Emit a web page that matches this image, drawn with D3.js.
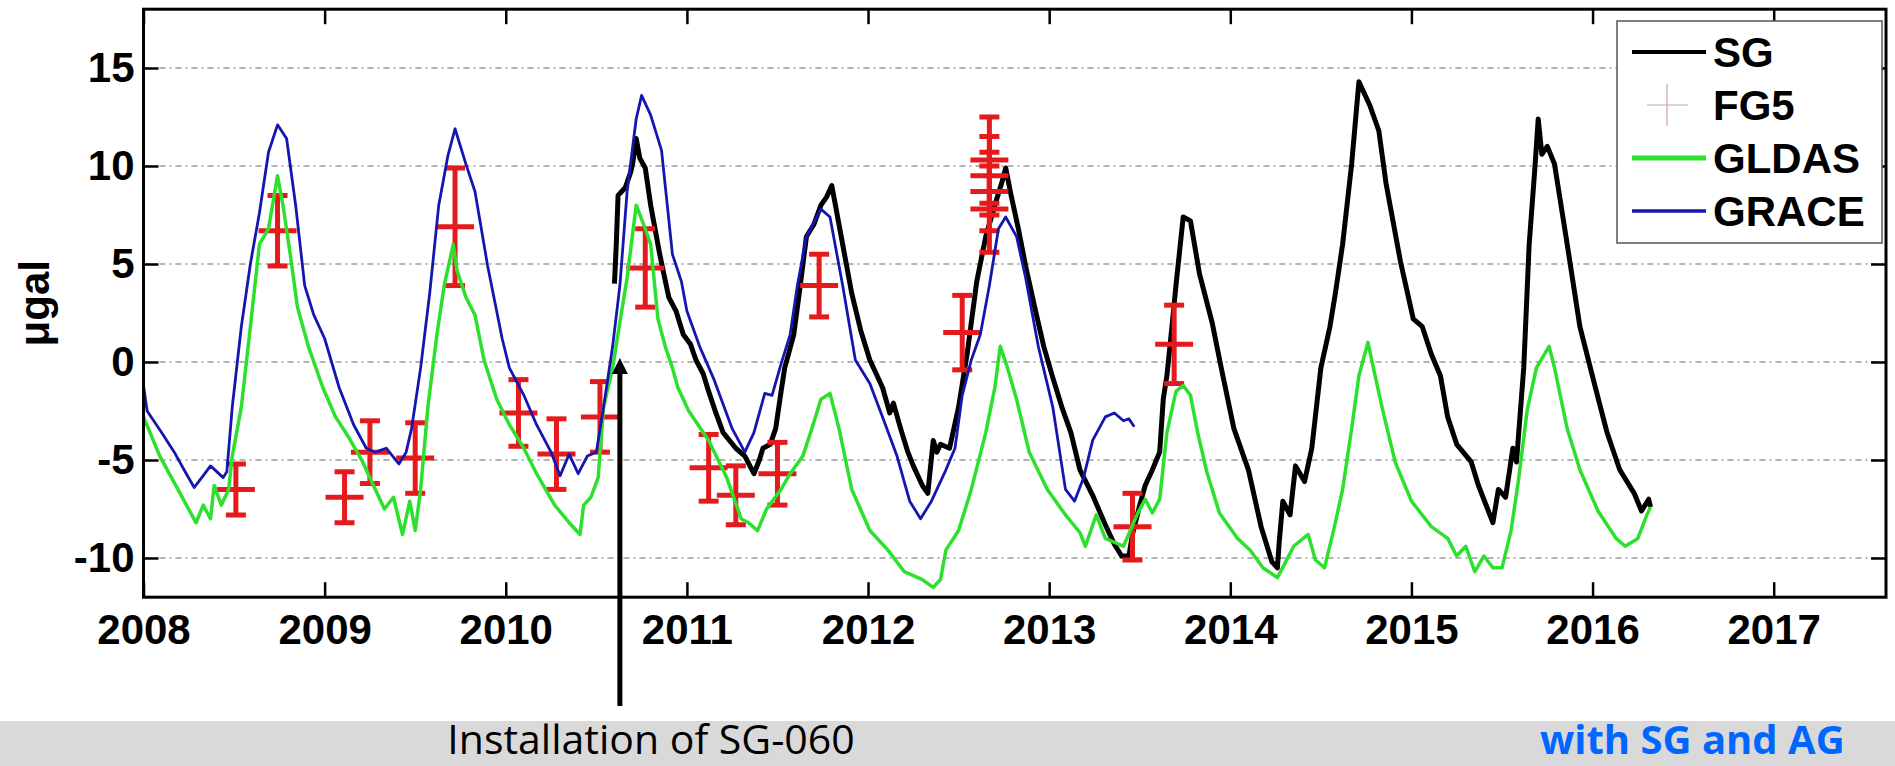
<!DOCTYPE html>
<html>
<head>
<meta charset="utf-8">
<script src="https://cdn.jsdelivr.net/npm/d3@7"></script>
<style>
    body { margin: 0; background: #fff; }
    .tick text { font-family: "Liberation Sans", Arial, sans-serif; font-weight: bold; font-size: 42px; fill: #000; }
</style>
</head>
<body>
<div id="chart"></div>
<script>
// ---- data (decimal years, microgal) ----
var sgYears = [2010.60, 2010.61, 2010.62, 2010.64, 2010.66, 2010.69, 2010.70, 2010.72, 2010.74, 2010.77, 2010.80, 2010.85, 2010.87, 2010.90, 2010.94, 2010.98, 2011.02, 2011.05, 2011.09, 2011.12, 2011.16, 2011.20, 2011.27, 2011.32, 2011.37, 2011.40, 2011.42, 2011.46, 2011.49, 2011.52, 2011.54, 2011.59, 2011.62, 2011.66, 2011.70, 2011.74, 2011.77, 2011.80, 2011.84, 2011.91, 2011.96, 2012.01, 2012.08, 2012.12, 2012.14, 2012.18, 2012.22, 2012.25, 2012.30, 2012.33, 2012.36, 2012.38, 2012.40, 2012.45, 2012.50, 2012.55, 2012.60, 2012.65, 2012.70, 2012.74, 2012.76, 2012.79, 2012.83, 2012.87, 2012.92, 2012.97, 2013.02, 2013.07, 2013.12, 2013.17, 2013.24, 2013.31, 2013.36, 2013.40, 2013.44, 2013.46, 2013.50, 2013.53, 2013.57, 2013.61, 2013.63, 2013.65, 2013.68, 2013.70, 2013.74, 2013.78, 2013.83, 2013.90, 2013.95, 2014.02, 2014.10, 2014.17, 2014.23, 2014.26, 2014.27, 2014.29, 2014.33, 2014.36, 2014.41, 2014.45, 2014.50, 2014.55, 2014.58, 2014.62, 2014.67, 2014.71, 2014.74, 2014.77, 2014.82, 2014.86, 2014.94, 2015.01, 2015.06, 2015.11, 2015.16, 2015.20, 2015.25, 2015.33, 2015.37, 2015.45, 2015.48, 2015.52, 2015.56, 2015.58, 2015.62, 2015.65, 2015.68, 2015.70, 2015.72, 2015.75, 2015.79, 2015.86, 2015.93, 2016.01, 2016.08, 2016.15, 2016.23, 2016.27, 2016.31, 2016.32];
var sgValues = [4.0, 6.0, 8.5, 8.7, 8.9, 9.7, 10.1, 11.4, 10.4, 9.9, 8.0, 5.5, 4.6, 3.3, 2.6, 1.4, 0.9, 0.1, -0.6, -1.5, -2.6, -3.6, -4.4, -4.8, -5.7, -5.0, -4.4, -4.2, -3.4, -1.5, -0.3, 1.4, 3.5, 6.4, 7.0, 8.0, 8.4, 9.0, 7.0, 3.5, 1.6, 0.1, -1.3, -2.6, -2.1, -3.4, -4.6, -5.3, -6.3, -6.7, -4.0, -4.6, -4.2, -4.4, -2.3, 0.6, 4.1, 6.4, 8.0, 9.2, 9.9, 8.5, 6.8, 4.9, 2.8, 0.8, -0.8, -2.3, -3.6, -5.5, -6.8, -8.3, -9.3, -9.9, -9.9, -8.8, -7.3, -6.3, -5.5, -4.6, -1.9, -0.7, 2.0, 3.9, 7.4, 7.2, 4.5, 2.0, -0.3, -3.4, -5.5, -8.4, -10.2, -10.5, -9.2, -7.1, -7.8, -5.3, -6.1, -4.4, -0.3, 1.8, 3.5, 6.0, 10.1, 14.3, 13.7, 13.1, 11.8, 9.1, 5.1, 2.2, 1.8, 0.4, -0.7, -2.8, -4.2, -5.1, -6.3, -8.2, -6.5, -6.9, -4.4, -5.1, -0.3, 6.0, 9.7, 12.4, 10.6, 11.0, 10.1, 6.0, 1.8, -1.1, -3.6, -5.5, -6.7, -7.6, -7.0, -7.4];

var fg5Years = [2008.51, 2008.74, 2009.11, 2009.25, 2009.50, 2009.72, 2010.07, 2010.28, 2010.52, 2010.77, 2011.12, 2011.27, 2011.50, 2011.73, 2012.52, 2012.67, 2012.67, 2012.67, 2012.67, 2013.46, 2013.69];
var fg5Values = [-6.5, 6.7, -6.9, -4.6, -4.9, 6.9, -2.6, -4.7, -2.8, 4.8, -5.4, -6.8, -5.7, 3.9, 1.5, 10.3, 9.5, 8.7, 7.8, -8.4, 0.9];
var fg5Errors = [1.3, 1.8, 1.3, 1.6, 1.8, 3.0, 1.7, 1.8, 1.8, 2.0, 1.7, 1.5, 1.6, 1.6, 1.9, 2.2, 2.0, 2.0, 2.2, 1.7, 2.0];

var gldasYears = [2008.00, 2008.09, 2008.19, 2008.29, 2008.33, 2008.37, 2008.39, 2008.43, 2008.47, 2008.49, 2008.54, 2008.59, 2008.64, 2008.69, 2008.74, 2008.77, 2008.81, 2008.85, 2008.91, 2008.99, 2009.06, 2009.13, 2009.21, 2009.28, 2009.33, 2009.38, 2009.43, 2009.47, 2009.50, 2009.53, 2009.57, 2009.62, 2009.66, 2009.71, 2009.73, 2009.78, 2009.83, 2009.88, 2009.95, 2010.02, 2010.10, 2010.17, 2010.27, 2010.35, 2010.41, 2010.43, 2010.47, 2010.51, 2010.54, 2010.59, 2010.64, 2010.67, 2010.72, 2010.77, 2010.80, 2010.84, 2010.88, 2010.92, 2010.95, 2011.01, 2011.12, 2011.22, 2011.30, 2011.34, 2011.39, 2011.44, 2011.52, 2011.57, 2011.64, 2011.69, 2011.74, 2011.79, 2011.84, 2011.91, 2012.01, 2012.11, 2012.20, 2012.30, 2012.36, 2012.40, 2012.43, 2012.50, 2012.57, 2012.65, 2012.70, 2012.73, 2012.77, 2012.82, 2012.89, 2012.99, 2013.09, 2013.17, 2013.20, 2013.26, 2013.31, 2013.41, 2013.49, 2013.53, 2013.57, 2013.61, 2013.65, 2013.70, 2013.74, 2013.78, 2013.82, 2013.87, 2013.94, 2014.04, 2014.11, 2014.18, 2014.26, 2014.30, 2014.35, 2014.43, 2014.47, 2014.52, 2014.57, 2014.62, 2014.67, 2014.71, 2014.76, 2014.79, 2014.84, 2014.91, 2015.00, 2015.11, 2015.20, 2015.25, 2015.30, 2015.35, 2015.40, 2015.45, 2015.50, 2015.55, 2015.59, 2015.64, 2015.69, 2015.76, 2015.79, 2015.86, 2015.93, 2016.03, 2016.13, 2016.18, 2016.25, 2016.30, 2016.32];
var gldasValues = [-2.8, -4.8, -6.5, -8.2, -7.3, -8.0, -6.3, -7.3, -6.5, -4.8, -2.3, 1.8, 6.0, 6.8, 9.5, 8.0, 5.5, 2.8, 0.8, -1.3, -2.8, -3.8, -5.1, -6.5, -7.5, -6.9, -8.8, -7.1, -8.6, -6.5, -2.3, 1.4, 3.9, 6.0, 4.7, 3.3, 2.4, 0.1, -1.9, -3.2, -4.4, -5.7, -7.3, -8.2, -8.8, -7.3, -6.9, -5.9, -2.3, -0.3, 2.6, 4.3, 8.0, 6.8, 6.0, 2.2, 0.8, -0.3, -1.3, -2.5, -4.0, -5.9, -8.0, -8.2, -8.6, -7.5, -6.5, -5.7, -4.8, -3.4, -1.9, -1.6, -3.4, -6.5, -8.6, -9.6, -10.7, -11.1, -11.5, -11.1, -9.6, -8.6, -6.5, -3.6, -1.3, 0.8, -0.3, -1.9, -4.6, -6.5, -7.8, -8.7, -9.4, -7.8, -9.0, -9.4, -7.7, -7.0, -7.7, -7.0, -3.6, -1.5, -1.2, -1.7, -3.6, -5.6, -7.7, -9.0, -9.6, -10.5, -11.0, -10.3, -9.4, -8.8, -10.1, -10.5, -8.6, -6.5, -3.4, -0.7, 1.0, -0.3, -2.4, -5.1, -7.1, -8.4, -9.0, -9.9, -9.4, -10.7, -9.9, -10.5, -10.5, -8.6, -6.1, -2.4, -0.3, 0.8, -0.3, -3.4, -5.5, -7.6, -9.0, -9.4, -9.0, -7.8, -7.4];

var graceYears = [2008.00, 2008.02, 2008.10, 2008.17, 2008.23, 2008.28, 2008.33, 2008.37, 2008.44, 2008.46, 2008.49, 2008.54, 2008.59, 2008.64, 2008.69, 2008.74, 2008.79, 2008.84, 2008.89, 2008.94, 2009.00, 2009.08, 2009.16, 2009.23, 2009.28, 2009.34, 2009.41, 2009.45, 2009.48, 2009.53, 2009.58, 2009.63, 2009.68, 2009.72, 2009.78, 2009.83, 2009.90, 2009.98, 2010.02, 2010.10, 2010.17, 2010.25, 2010.30, 2010.35, 2010.40, 2010.45, 2010.50, 2010.54, 2010.59, 2010.63, 2010.67, 2010.72, 2010.75, 2010.80, 2010.86, 2010.92, 2010.97, 2011.00, 2011.07, 2011.15, 2011.25, 2011.32, 2011.37, 2011.43, 2011.47, 2011.52, 2011.57, 2011.61, 2011.66, 2011.74, 2011.79, 2011.86, 2011.93, 2012.01, 2012.08, 2012.16, 2012.23, 2012.29, 2012.35, 2012.43, 2012.48, 2012.52, 2012.57, 2012.62, 2012.67, 2012.72, 2012.76, 2012.82, 2012.87, 2012.94, 2013.02, 2013.09, 2013.14, 2013.19, 2013.24, 2013.31, 2013.36, 2013.41, 2013.44, 2013.47];
var graceValues = [-1.2, -2.5, -3.6, -4.6, -5.6, -6.4, -5.8, -5.3, -5.9, -5.6, -2.3, 1.8, 5.0, 7.6, 10.7, 12.1, 11.4, 8.0, 3.9, 2.4, 1.2, -1.3, -3.2, -4.4, -4.6, -4.4, -5.2, -4.6, -3.4, -0.3, 3.5, 8.0, 10.5, 11.9, 10.1, 8.7, 4.9, 1.2, -0.3, -1.7, -3.2, -4.6, -5.8, -4.7, -5.7, -4.8, -4.6, -2.3, 0.8, 3.9, 8.7, 12.4, 13.6, 12.6, 10.8, 5.5, 4.1, 2.6, 0.8, -0.9, -3.4, -4.6, -3.6, -1.6, -1.7, -0.1, 1.4, 3.9, 6.4, 7.8, 7.4, 3.9, 0.1, -1.1, -2.8, -4.8, -7.1, -8.0, -7.1, -5.5, -4.4, -1.7, 0.1, 1.4, 3.9, 6.8, 7.4, 6.4, 4.3, 0.8, -2.3, -6.5, -7.1, -5.9, -4.0, -2.8, -2.6, -3.0, -2.9, -3.3];

var yearTicks = [2008, 2009, 2010, 2011, 2012, 2013, 2014, 2015, 2016, 2017];
var valueTicks = [-10, -5, 0, 5, 10, 15];
var legendLabels = ['SG', 'FG5', 'GLDAS', 'GRACE'];
var installYear = 2010.63;

function buildChart(containerId) {
    // size globals
    var width = 1895;
    var height = 766;

    var plotLeft = 143.5;
    var plotRight = 1886;
    var plotTop = 9.2;
    var plotBottom = 597.2;

    var colors = {
        sg: '#000000',
        fg5: '#e41a1c',
        gldas: '#2ee02e',
        grace: '#1515b0'
    };

    var svg = d3
        .select(containerId)
        .append('svg')
        .attr('width', width)
        .attr('height', height)
        .style('display', 'block');

    svg.append('rect')
        .attr('width', width)
        .attr('height', height)
        .attr('fill', '#fff');

    var x = d3.scaleLinear()
        .domain([2008, 2017.62])
        .range([plotLeft, plotRight]);

    var y = d3.scaleLinear()
        .domain([-12, 18])
        .range([plotBottom, plotTop]);

    svg.append('clipPath')
        .attr('id', 'plot-clip')
        .append('rect')
        .attr('x', plotLeft)
        .attr('y', plotTop)
        .attr('width', plotRight - plotLeft)
        .attr('height', plotBottom - plotTop);

    // gridlines
    svg.append('g')
        .selectAll('line')
        .data(valueTicks)
        .enter()
        .append('line')
        .attr('x1', plotLeft)
        .attr('x2', plotRight)
        .attr('y1', d => y(d))
        .attr('y2', d => y(d))
        .attr('stroke', '#9a9a9a')
        .attr('stroke-width', 1.6)
        .attr('stroke-dasharray', '6,4,2,4');

    var plot = svg.append('g').attr('clip-path', 'url(#plot-clip)');

    var line = d3.line()
        .x(d => x(d[0]))
        .y(d => y(d[1]));

    function pairs(xs, ys) {
        return xs.map((d, i) => [d, ys[i]]);
    }

    // SG
    plot.append('path')
        .datum(pairs(sgYears, sgValues))
        .attr('d', line)
        .attr('fill', 'none')
        .attr('stroke', colors.sg)
        .attr('stroke-width', 5)
        .attr('stroke-linejoin', 'round');

    // FG5 error bars
    var fg5 = plot.append('g')
        .selectAll('g')
        .data(fg5Years.map((d, i) => ({ t: d, v: fg5Values[i], e: fg5Errors[i] })))
        .enter()
        .append('g')
        .attr('stroke', colors.fg5)
        .attr('stroke-width', 5);

    fg5.append('line')
        .attr('x1', d => x(d.t))
        .attr('x2', d => x(d.t))
        .attr('y1', d => y(d.v - d.e))
        .attr('y2', d => y(d.v + d.e));

    fg5.append('line')
        .attr('x1', d => x(d.t) - 10)
        .attr('x2', d => x(d.t) + 10)
        .attr('y1', d => y(d.v + d.e))
        .attr('y2', d => y(d.v + d.e));

    fg5.append('line')
        .attr('x1', d => x(d.t) - 10)
        .attr('x2', d => x(d.t) + 10)
        .attr('y1', d => y(d.v - d.e))
        .attr('y2', d => y(d.v - d.e));

    fg5.append('line')
        .attr('x1', d => x(d.t) - 19)
        .attr('x2', d => x(d.t) + 19)
        .attr('y1', d => y(d.v))
        .attr('y2', d => y(d.v));

    // GLDAS
    plot.append('path')
        .datum(pairs(gldasYears, gldasValues))
        .attr('d', line)
        .attr('fill', 'none')
        .attr('stroke', colors.gldas)
        .attr('stroke-width', 3.5)
        .attr('stroke-linejoin', 'round');

    // GRACE
    plot.append('path')
        .datum(pairs(graceYears, graceValues))
        .attr('d', line)
        .attr('fill', 'none')
        .attr('stroke', colors.grace)
        .attr('stroke-width', 2.8)
        .attr('stroke-linejoin', 'round');

    // axes, ticks pointing inward like matlab
    var plainNumber = d => String(d);   // hyphen minus, not the unicode one

    var bottomAxis = d3.axisBottom(x).tickValues(yearTicks).tickFormat(plainNumber)
        .tickSizeInner(-15).tickSizeOuter(0).tickPadding(17);
    var topAxis = d3.axisTop(x).tickValues(yearTicks).tickFormat('')
        .tickSizeInner(-15).tickSizeOuter(0);
    var leftAxis = d3.axisLeft(y).tickValues(valueTicks).tickFormat(plainNumber)
        .tickSizeInner(-15).tickSizeOuter(0).tickPadding(9);
    var rightAxis = d3.axisRight(y).tickValues(valueTicks).tickFormat('')
        .tickSizeInner(-15).tickSizeOuter(0);

    [
        [bottomAxis, 'translate(0,' + plotBottom + ')'],
        [topAxis, 'translate(0,' + plotTop + ')'],
        [leftAxis, 'translate(' + plotLeft + ',0)'],
        [rightAxis, 'translate(' + plotRight + ',0)']
    ].forEach(a => {
        var g = svg.append('g').attr('transform', a[1]).call(a[0]);
        g.select('.domain').remove();
        g.selectAll('.tick line').attr('stroke', '#000').attr('stroke-width', 2.5);
    });

    // frame
    svg.append('rect')
        .attr('x', plotLeft)
        .attr('y', plotTop)
        .attr('width', plotRight - plotLeft)
        .attr('height', plotBottom - plotTop)
        .attr('fill', 'none')
        .attr('stroke', '#000')
        .attr('stroke-width', 3);

    // y label
    svg.append('text')
        .attr('transform', 'translate(49,' + ((plotTop + plotBottom) / 2) + ') rotate(-90)')
        .attr('text-anchor', 'middle')
        .style('font-family', '"Liberation Sans", Arial, sans-serif')
        .style('font-weight', 'bold')
        .style('font-size', '42px')
        .text('μgal');

    // legend
    var legend = svg.append('g');
    legend.append('rect')
        .attr('x', 1617)
        .attr('y', 21)
        .attr('width', 265)
        .attr('height', 222)
        .attr('fill', '#fff')
        .attr('stroke', '#555')
        .attr('stroke-width', 1.5);

    var legendKeys = ['sg', 'fg5', 'gldas', 'grace'];
    var legendWidths = { sg: 4, gldas: 5, grace: 3.5 };

    legendLabels.forEach((label, i) => {
        var cy = 52 + i * 53;
        var key = legendKeys[i];
        if (key === 'fg5') {
            legend.append('line')
                .attr('x1', 1647).attr('x2', 1688)
                .attr('y1', cy).attr('y2', cy)
                .attr('stroke', '#c9a3a3').attr('stroke-width', 1.2);
            legend.append('line')
                .attr('x1', 1667).attr('x2', 1667)
                .attr('y1', cy - 21).attr('y2', cy + 21)
                .attr('stroke', '#c9a3a3').attr('stroke-width', 1.2);
        } else {
            legend.append('line')
                .attr('x1', 1632).attr('x2', 1706)
                .attr('y1', cy).attr('y2', cy)
                .attr('stroke', colors[key])
                .attr('stroke-width', legendWidths[key]);
        }
        legend.append('text')
            .attr('x', 1713)
            .attr('y', cy)
            .attr('dy', '0.36em')
            .style('font-family', '"Liberation Sans", Arial, sans-serif')
            .style('font-weight', 'bold')
            .style('font-size', '42px')
            .text(label);
    });

    // bottom grey band and captions
    svg.append('rect')
        .attr('x', 0)
        .attr('y', 721)
        .attr('width', width)
        .attr('height', height - 721)
        .attr('fill', '#d9d9d9');

    svg.append('text')
        .attr('x', 651)
        .attr('y', 754)
        .attr('text-anchor', 'middle')
        .style('font-family', '"Open Sans", sans-serif')
        .style('font-size', '41px')
        .text('Installation of SG-060');

    svg.append('text')
        .attr('x', 1540)
        .attr('y', 754)
        .style('font-family', '"Open Sans", sans-serif')
        .style('font-weight', 'bold')
        .style('font-size', '40px')
        .attr('fill', '#0066ff')
        .text('with SG and AG');

    // installation arrow
    var ax = x(installYear);
    var tipY = y(0.2);
    svg.append('line')
        .attr('x1', ax).attr('x2', ax)
        .attr('y1', 706).attr('y2', tipY + 14)
        .attr('stroke', '#000')
        .attr('stroke-width', 5);
    svg.append('path')
        .attr('d', 'M' + ax + ',' + tipY + 'L' + (ax - 8) + ',' + (tipY + 16) + 'L' + (ax + 8) + ',' + (tipY + 16) + 'Z')
        .attr('fill', '#000');
}

buildChart('#chart');
</script>
</body>
</html>
